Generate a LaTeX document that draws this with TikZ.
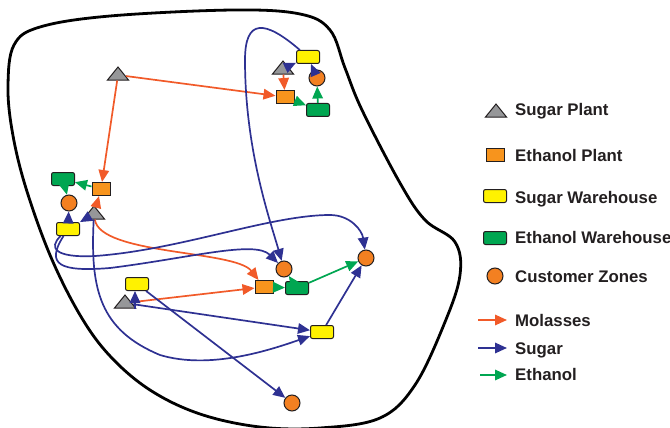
\documentclass[tikz,border=0pt]{standalone}
\usepackage{fontspec}
\setmainfont{Liberation Sans}
\usetikzlibrary{shapes.geometric,arrows.meta}

\definecolor{molcol}{RGB}{241,90,41}
\definecolor{sugcol}{RGB}{46,49,146}
\definecolor{ethcol}{RGB}{0,166,81}
\definecolor{plantgray}{RGB}{150,151,153}
\definecolor{plantorange}{RGB}{247,148,29}
\definecolor{zoneorange}{RGB}{243,128,33}
\definecolor{whyellow}{RGB}{255,242,0}
\definecolor{outline}{RGB}{35,31,32}

\begin{document}
\begin{tikzpicture}[x=1pt, y=-1pt, >={Triangle[length=12pt,width=10.5pt]},
    splant/.style={isosceles triangle, isosceles triangle stretches, shape border rotate=90,
        minimum width=21pt, minimum height=13pt, inner sep=0pt, draw=outline, fill=plantgray, line width=1pt},
    eplant/.style={rectangle, minimum width=18pt, minimum height=13pt, inner sep=0pt, draw=outline, fill=plantorange, line width=1pt},
    swhouse/.style={rectangle, rounded corners=2pt, minimum width=23pt, minimum height=13pt, inner sep=0pt, draw=outline, fill=whyellow, line width=1pt},
    ewhouse/.style={rectangle, rounded corners=2pt, minimum width=23pt, minimum height=13pt, inner sep=0pt, draw=outline, fill=ethcol, line width=1pt},
    czone/.style={circle, minimum size=16pt, inner sep=0pt, draw=outline, fill=zoneorange, line width=1pt},
    molasses/.style={->, molcol, line width=1.7pt},
    sugar/.style={->, sugcol, line width=1.7pt},
    ethanol/.style={->, ethcol, line width=1.7pt},
    legtext/.style={anchor=base west, inner sep=0pt, text=outline, font=\fontsize{16.8}{20}\selectfont\bfseries}]

    \useasboundingbox (0,0) rectangle (670,428);

    % Region boundary
    \draw[line width=2.8pt] plot[smooth cycle, tension=0.6] coordinates {
        (8,85) (14,45) (40,27) (110,16) (233,10) (300,14) (330,30) (345,68)
        (362,110) (400,183) (425,220) (455,242) (460,275) (445,322) (415,385)
        (380,418) (320,428) (260,427) (200,414) (150,390) (110,356) (80,315)
        (50,255) (25,185) (12,130)};

    % Sugar plants
    \node[splant] (sp1) at (118,75) {};
    \node[splant] (sp2) at (283,69) {};
    \node[splant] (sp3) at (94,214) {};
    \node[splant] (sp4) at (125,303) {};

    % Ethanol plants
    \node[eplant] (ep1) at (285,97) {};
    \node[eplant] (ep2) at (101,189) {};
    \node[eplant] (ep3) at (264,287) {};

    % Sugar warehouses
    \node[swhouse] (sw1) at (308,57) {};
    \node[swhouse] (sw2) at (68,229) {};
    \node[swhouse] (sw3) at (137,284) {};
    \node[swhouse] (sw4) at (322,332) {};

    % Ethanol warehouses
    \node[ewhouse] (ew1) at (318,110) {};
    \node[ewhouse] (ew2) at (63,179) {};
    \node[ewhouse] (ew3) at (297,288) {};

    % Customer zones
    \node[czone] (cz1) at (317,78) {};
    \node[czone] (cz2) at (69,203) {};
    \node[czone] (cz3) at (284,269) {};
    \node[czone] (cz4) at (366,258) {};
    \node[czone] (cz5) at (292,403) {};

    % Molasses flows
    \draw[molasses] (sp1) -- (ep1);
    \draw[molasses] (sp1) -- (ep2);
    \draw[molasses] (sp2) -- (ep1);
    \draw[molasses] (sp3) -- (ep2);
    \draw[molasses] (sp3) .. controls (100,255) and (235,250) .. (ep3);
    \draw[molasses] (sp4) -- (ep3);

    % Sugar flows
    \draw[sugar] (sp2) -- (sw1);
    \draw[sugar] (cz1) -- (sw1);
    \draw[sugar] (sw1) .. controls (265,20) and (245,18) .. (245,60)
        .. controls (245,150) and (270,220) .. (cz3);
    \draw[sugar] (sp3) -- (sw2);
    \draw[sugar] (sw2) -- (cz2);
    \draw[sugar] (sw2) .. controls (48,248) and (55,258) .. (95,256)
        .. controls (180,250) and (270,215) .. (330,215)
        .. controls (350,215) and (362,230) .. (cz4);
    \draw[sugar] (sw2) .. controls (45,265) and (60,272) .. (110,268)
        .. controls (190,258) and (255,240) .. (cz3);
    \draw[sugar] (sp3) .. controls (90,290) and (100,330) .. (160,355)
        .. controls (210,370) and (270,350) .. (sw4);
    \draw[sugar] ([xshift=10]sp4.south) -- ([xshift=-2]sw3.south);
    \draw[sugar] (sp4) -- (sw4);
    \draw[sugar] (sw3) -- (cz5);
    \draw[sugar] (sw4) -- (cz4);

    % Ethanol flows
    \draw[ethanol] (ep1) -- (ew1);
    \draw[ethanol] (ew1) -- (cz1);
    \draw[ethanol] (ep2) -- (ew2);
    \draw[ethanol] (ew2) -- (cz2);
    \draw[ethanol] (ep3) -- (ew3);
    \draw[ethanol] (ew3) -- (cz3);
    \draw[ethanol] (ew3) -- (cz4);

    % Legend
    \node[splant] (lsp) at (496,112) {};
    \node[legtext] (tsp) at (515,115) {Sugar Plant};
    \node[eplant] (lep) at (495,155) {};
    \node[legtext] (tep) at (515,161) {Ethanol Plant};
    \node[swhouse] (lsw) at (495,196) {};
    \node[legtext] (tsw) at (515,203) {Sugar Warehouse};
    \node[ewhouse] (lew) at (495,238) {};
    \node[legtext] (tew) at (515,243) {Ethanol Warehouse};
    \node[czone] (lcz) at (495,276) {};
    \node[legtext] (tcz) at (515,282) {Customer Zones};

    \coordinate (lmol) at (478,320);
    \node[legtext] (tmol) at (515,326) {Molasses};
    \draw[molasses] (lmol) -- (lmol -| 507,0);
    \coordinate (lsug) at (478,348);
    \node[legtext] (tsug) at (515,354) {Sugar};
    \draw[sugar] (lsug) -- (lsug -| 507,0);
    \coordinate (leth) at (480,375);
    \node[legtext] (teth) at (515,380) {Ethanol};
    \draw[ethanol] (leth) -- (leth -| 507,0);

\end{tikzpicture}
\end{document}
